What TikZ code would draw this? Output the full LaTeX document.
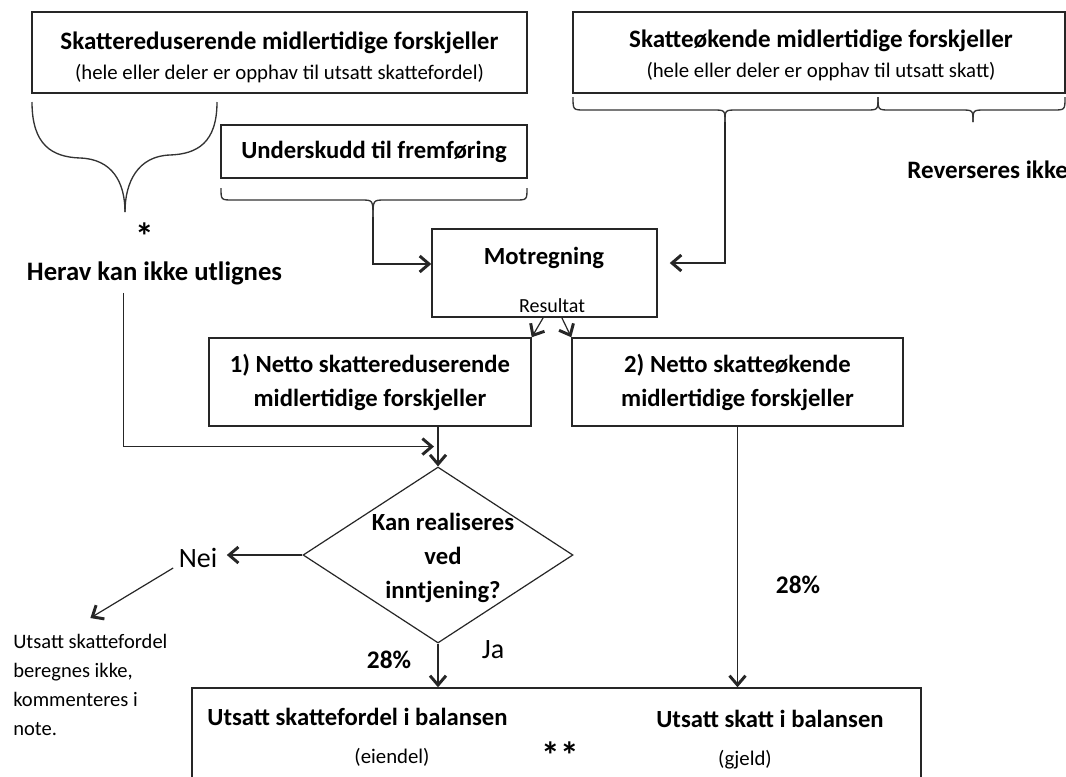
\documentclass[tikz,border=0pt]{standalone}
\usepackage{fontspec}
\setmainfont{Carlito}
\usetikzlibrary{arrows.meta,shapes.geometric,calc}

\begin{document}
\begin{tikzpicture}[x=0.75pt,y=-0.75pt,
  box/.style={draw=black!85, line width=1.1pt, rectangle, inner sep=0pt},
  conn/.style={draw=black!85, line width=0.9pt},
  arr/.style={conn, -{Straight Barb[length=7pt,width=12pt,line width=2.2pt]}},
  bracepath/.style={draw=black!80, line width=1pt},
  ttl/.style={inner sep=0pt, font=\bfseries\fontsize{18.8pt}{22pt}\selectfont},
  sub/.style={inner sep=0pt, font=\fontsize{15.6pt}{18pt}\selectfont},
  bold/.style={inner sep=0pt, align=center, font=\bfseries\fontsize{18.5pt}{25.5pt}\selectfont},
  big/.style={inner sep=0pt, font=\bfseries\fontsize{20pt}{24pt}\selectfont},
  reg/.style={inner sep=0pt, font=\fontsize{21pt}{24pt}\selectfont},
  pct/.style={inner sep=0pt, font=\bfseries\fontsize{19pt}{22pt}\selectfont},
  stars/.style={inner sep=0pt, font=\bfseries\fontsize{28pt}{30pt}\selectfont},
  notetxt/.style={inner sep=0pt, align=left, font=\fontsize{15.4pt}{21.75pt}\selectfont},
  small/.style={inner sep=0pt, font=\fontsize{15pt}{18pt}\selectfont},
]
\clip (0,0) rectangle (1066,776);
\fill[white] (0,0) rectangle (1066,776);

% ---- top row: the two kinds of temporary differences ----
\node[box, minimum width=371.25pt, minimum height=60.75pt] (red) at (279.5,52.5) {};
\node[ttl] (redT) at (279.5,43) {Skattereduserende midlertidige forskjeller};
\node[sub] (redS) at (279.5,74) {(hele eller deler er opphav til utsatt skattefordel)};

\node[box, minimum width=369pt, minimum height=60.75pt] (inc) at (819,52.5) {};
\node[ttl] (incT) at (821,41) {Skatteøkende midlertidige forskjeller};
\node[sub] (incS) at (821,72) {(hele eller deler er opphav til utsatt skatt)};

% big curly brace under the left box
\draw[bracepath] (32,102) .. controls (32,145) and (52,157) .. (80,158)
                 .. controls (112,159) and (125,182) .. (125,212);
\draw[bracepath] (217,102) .. controls (217,143) and (197,154) .. (170,155)
                 .. controls (138,156) and (125,182) .. (125,212);
\coordinate (bigtip) at (125,212);

\node[stars] (star1) at (145,236) {*};
\node[big] (herav) at (154.5,273) {Herav kan ikke utlignes};

% carried-forward losses
\node[box, minimum width=229.5pt, minimum height=39.75pt, bold] (under) at (374,151.5) {Underskudd til fremføring};
\draw[bracepath] (221,188) .. controls (221,200) .. (233,200) -- (361,200) .. controls (373,200) .. (373,217);
\draw[bracepath] (527,188) .. controls (527,200) .. (515,200) -- (385,200) .. controls (373,200) .. (373,217);
\coordinate (utip) at (373,217);

% two braces under the right box
\draw[bracepath] (573,97) .. controls (573,110) .. (585,110) -- (713,110) .. controls (725,110) .. (725,122);
\draw[bracepath] (878,97) .. controls (878,110) .. (866,110) -- (737,110) .. controls (725,110) .. (725,122);
\draw[bracepath] (878,97) .. controls (878,110) .. (890,110) -- (961,110) .. controls (973,110) .. (973,122);
\draw[bracepath] (1065,97) .. controls (1065,110) .. (1053,110) -- (985,110) .. controls (973,110) .. (973,122);
\coordinate (btip) at (725,122);
\node[inner sep=0pt, anchor=west, font=\bfseries\fontsize{18.8pt}{22pt}\selectfont] (rev) at (907,170) {Reverseres ikke};

% offsetting
\node[box, minimum width=168.75pt, minimum height=66pt] (mot) at (544.5,273) {};
\node[bold] (motT) at (544,258) {Motregning};
\node[small] (res) at (552,306) {Resultat};

\node[box, minimum width=241.5pt, minimum height=66pt, bold] (net1) at (370,382) {1) Netto skattereduserende\\midlertidige forskjeller};
\node[box, minimum width=248.25pt, minimum height=66pt, bold] (net2) at (737.5,382) {2) Netto skatteøkende\\midlertidige forskjeller};

% decision
\node[draw=black!85, line width=0.9pt, diamond, minimum width=202.5pt, minimum height=132pt, inner sep=0pt] (dia) at (438,555) {};
\node[bold] (diaT) at (443,558) {Kan realiseres\\ved\\inntjening?};

\node[reg] (nei) at (198,558) {Nei};
\node[notetxt, anchor=north west] (note) at (13,634) {Utsatt skattefordel\\beregnes ikke,\\kommenteres i\\note.};

\node[pct] (p1) at (389,660) {28\%};
\node[reg] (ja) at (493,650) {Ja};
\node[pct] (p2) at (798,585) {28\%};

% balance sheet
\node[box, minimum width=546.75pt, minimum height=84pt] (bal) at (556.5,744) {};
\node[bold] (balL) at (357.5,717) {Utsatt skattefordel i balansen};
\node[sub] (eien) at (392,757) {(eiendel)};
\node[stars] (star2) at (560,755) {**};
\node[bold] (balR) at (770,719) {Utsatt skatt i balansen};
\node[sub] (gjeld) at (745,760) {(gjeld)};

% connectors
\draw[arr] (utip) |- ([yshift=6.75pt]mot.west);
\draw[arr, shorten >=9pt] (btip) |- ([yshift=7.5pt]mot.east);
\draw[arr] ([xshift=-1pt]mot.south) -- (net1.north east);
\draw[arr] ([xshift=13pt]mot.south) -- (net2.north west);
\draw[arr] (net1.south -| dia.north) -- (dia.north);
\draw[arr, shorten >=3pt] ([xshift=-23pt,yshift=-6pt]herav.south) |- ($(net1.south -| dia.north)!0.5!(dia.north)$);
\draw[arr, shorten >=7pt] (dia.west) -- (dia.west -| nei.east);
\draw[arr] ([xshift=-4pt]nei.south west) -- ([yshift=12pt]note.north);
\draw[arr] (dia.south) -- (dia.south |- bal.north);
\draw[arr] (net2.south) -- (net2.south |- bal.north);
\end{tikzpicture}
\end{document}
